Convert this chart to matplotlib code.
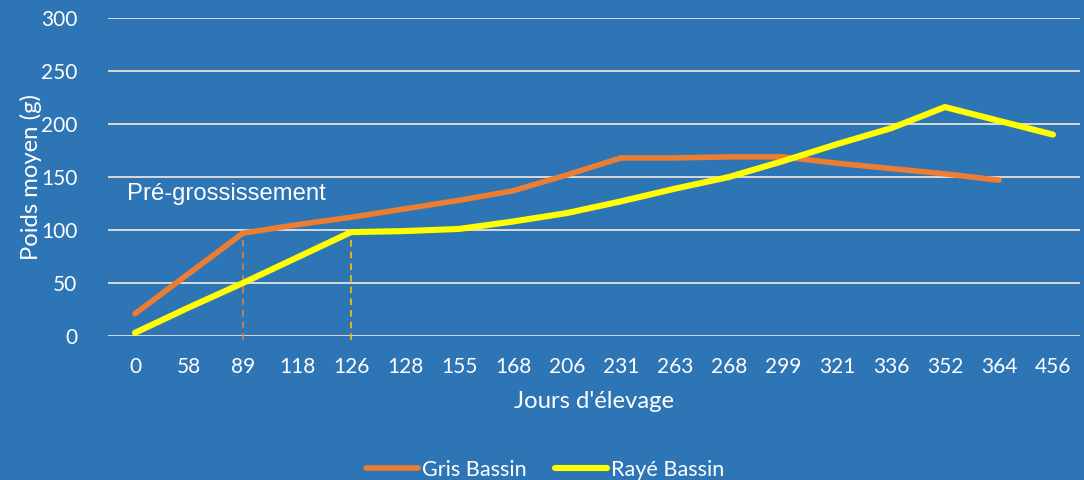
import numpy as np
import matplotlib
matplotlib.use("Agg")
import matplotlib.pyplot as plt

categories = ['0', '58', '89', '118', '126', '128', '155', '168', '206', '231',
              '263', '268', '299', '321', '336', '352', '364', '456']
gris_bassin = [21, 59, 97, 105, 112, 120, 128, 137, 152, 168,
               168, 169, 169, 163, 158, 153, 147, np.nan]
raye_bassin = [3, 27, 50, 74, 98, 99, 101, 108, 116, 127,
               139, 150, 165, 181, 196, 216, 203, 190]
y_ticks = [0, 50, 100, 150, 200, 250, 300]

BG = '#2E75B6'
ORANGE = '#ED7D31'
YELLOW = '#FFFF00'
CAL = ['Lato', 'DejaVu Sans']
ARI = ['Liberation Sans', 'DejaVu Sans']

fig = plt.figure(figsize=(10.84, 4.8), dpi=100, facecolor=BG)
ax = fig.add_axes([0.0996, 0.30, 0.8967, 0.6625])
ax.set_facecolor(BG)

x = np.arange(len(categories))
g = np.array(gris_bassin, dtype=float)
r = np.array(raye_bassin, dtype=float)
mg = ~np.isnan(g)

# dashed markers for end of pre-grossissement
i89 = categories.index('89')
i126 = categories.index('126')
ax.vlines(x[i89], -4, g[i89], colors='#E08040', linestyles=(0, (4, 3)), linewidth=1.2, clip_on=False, zorder=2)
ax.vlines(x[i126], -4, r[i126], colors='#FFC000', linestyles=(0, (4, 3)), linewidth=1.2, clip_on=False, zorder=2)

ax.plot(x[mg], g[mg], color=ORANGE, linewidth=4.0, solid_capstyle='round', solid_joinstyle='round',
        label='Gris Bassin', zorder=3)
ax.plot(x, r, color=YELLOW, linewidth=4.4, solid_capstyle='round', solid_joinstyle='round',
        label='Rayé Bassin', zorder=4)

ax.set_xlim(-0.5, len(categories) - 0.5)
ax.set_ylim(0, 300)
ax.set_yticks(y_ticks)
ax.set_xticks(x)
ax.set_xticklabels(categories, family=CAL, fontsize=15, color='white')
ax.set_yticklabels([str(v) for v in y_ticks], family=CAL, fontsize=15, color='white')
ax.tick_params(axis='x', length=0, pad=15)
ax.tick_params(axis='y', length=0, pad=22)

ax.grid(axis='y', color='#D9D9D9', linewidth=1.4)
ax.set_axisbelow(True)
for s in ax.spines.values():
    s.set_visible(False)

ax.set_ylabel('Poids moyen (g)', family=CAL, fontsize=17.2, color='white')
ax.yaxis.set_label_coords(-0.068, 0.5)
ax.set_xlabel("Jours d'élevage", family=CAL, fontsize=17.2, color='white', labelpad=10)

ax.text(-0.15, 134, 'Pré-grossissement', family=ARI, fontsize=17.2, color='white',
        ha='left', va='center', zorder=5)

leg = fig.legend(loc='lower center', bbox_to_anchor=(0.503, -0.04), ncol=2, frameon=False,
                 prop={'family': CAL, 'size': 15.6}, handlelength=2.4, handletextpad=0.2,
                 columnspacing=1.3)
for t in leg.get_texts():
    t.set_color('white')

fig.savefig('out.png', dpi=100, facecolor=BG)
